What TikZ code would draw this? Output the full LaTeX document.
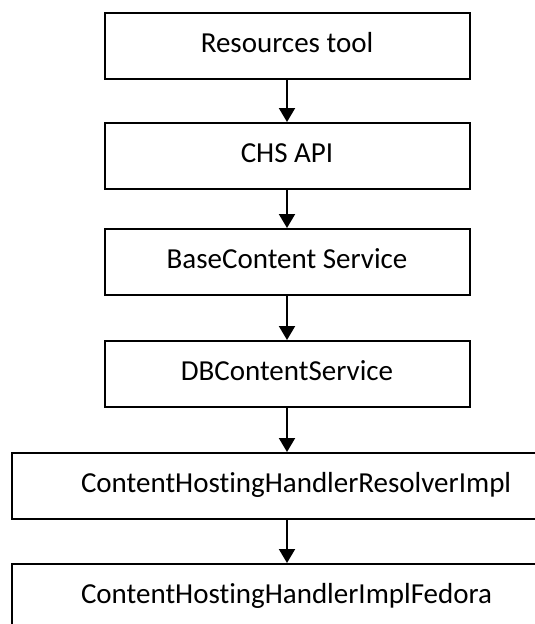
\documentclass[tikz,border=0pt]{standalone}
\usepackage{fontspec}
\setmainfont{Carlito}[Ligatures=NoCommon, Contextuals=NoAlternate, RawFeature={-liga;-clig;-dlig;-calt}]
\usetikzlibrary{arrows.meta}
\begin{document}
\begin{tikzpicture}[x=1pt,y=-1pt,
  box/.style={draw, line width=2pt, minimum width=365pt, minimum height=66pt,
    inner sep=0pt, text height=20pt, text depth=8pt,
    font=\fontsize{29}{34}\selectfont},
  widebox/.style={box, text width=450pt, inner xsep=69pt, align=left},
  arr/.style={line width=2pt, -{Triangle[width=16pt,length=14pt]}}]
\useasboundingbox (0,0) rectangle (535,624);
\clip (0,0) rectangle (535,624);

% service chain, top to bottom
\node[box] (res)  at (287,46)  {Resources tool};
\node[box] (chs)  at (287,156) {CHS API};
\node[box] (base) at (287,262) {BaseContent Service};
\node[box] (db)   at (287,374) {DBContentService};
\node[widebox] (resolver) at (306,486) {ContentHostingHandlerResolverImpl};
\node[widebox] (fedora)   at (306,597) {ContentHostingHandlerImplFedora};

\draw[arr] (res) -- (chs);
\draw[arr] (chs) -- (base);
\draw[arr] (base) -- (db);
\draw[arr] (db) -- (db |- resolver.north);
\draw[arr] (db |- resolver.south) -- (db |- fedora.north);
\end{tikzpicture}
\end{document}
